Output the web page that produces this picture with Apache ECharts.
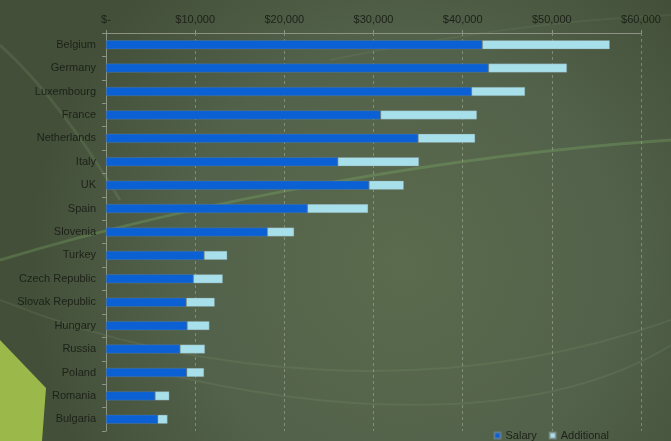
<!DOCTYPE html>
<html>
<head>
<meta charset="utf-8">
<script src="https://cdn.jsdelivr.net/npm/echarts@6/dist/echarts.min.js"></script>
<style>
html,body{margin:0;padding:0;}
#chart{width:671px;height:441px;}
</style>
</head>
<body>
<div id="chart"></div>
<script>
var categories = ['Belgium','Germany','Luxembourg','France','Netherlands','Italy','UK','Spain','Slovenia','Turkey','Czech Republic','Slovak Republic','Hungary','Russia','Poland','Romania','Bulgaria'];
var salary = [42200,42900,41000,30800,35000,26000,29500,22600,18100,11000,9800,9000,9100,8300,9050,5500,5800];
var additional = [14300,8800,6000,10800,6400,9100,3900,6800,3000,2600,3300,3200,2500,2800,1950,1600,1100];
var tickLabels = ['$-','$10,000','$20,000','$30,000','$40,000','$50,000','$60,000'];

var chart = echarts.init(document.getElementById('chart'));
var txt = '#1d2118';
var font = 'Liberation Sans, Arial, sans-serif';
chart.setOption({
  backgroundColor: {
    type: 'radial', x: 0.6, y: 0.6, r: 0.85,
    colorStops: [{offset: 0, color: '#5b6b4d'}, {offset: 0.6, color: '#52614a'}, {offset: 1, color: '#434f39'}]
  },
  graphic: [
    {type: 'polygon', silent: true, z: -10, shape: {points: [[0,340],[46,388],[42,441],[0,441]]}, style: {fill: '#9ab94a'}},
    {type: 'bezierCurve', silent: true, z: -10, shape: {x1: 0, y1: 260, cpx1: 200, cpy1: 200, cpx2: 450, cpy2: 155, x2: 671, y2: 140}, style: {stroke: 'rgba(140,200,110,0.25)', lineWidth: 3, fill: null}},
    {type: 'bezierCurve', silent: true, z: -10, shape: {x1: 0, y1: 45, cpx1: 50, cpy1: 90, cpx2: 90, cpy2: 150, x2: 120, y2: 200}, style: {stroke: 'rgba(170,210,150,0.12)', lineWidth: 3, fill: null}},
    {type: 'bezierCurve', silent: true, z: -10, shape: {x1: 0, y1: 300, cpx1: 200, cpy1: 380, cpx2: 450, cpy2: 400, x2: 671, y2: 320}, style: {stroke: 'rgba(170,210,150,0.1)', lineWidth: 2, fill: null}},
    {type: 'bezierCurve', silent: true, z: -10, shape: {x1: 150, y1: 370, cpx1: 350, cpy1: 420, cpx2: 550, cpy2: 420, x2: 671, y2: 345}, style: {stroke: 'rgba(170,210,150,0.1)', lineWidth: 2, fill: null}},
    {type: 'bezierCurve', silent: true, z: -10, shape: {x1: 330, y1: 60, cpx1: 450, cpy1: 35, cpx2: 560, cpy2: 20, x2: 671, y2: 15}, style: {stroke: 'rgba(170,210,150,0.08)', lineWidth: 2, fill: null}}
  ],
  grid: {left: 106, right: 30, top: 33, bottom: 10, containLabel: false},
  legend: {
    right: 57, top: 425, itemWidth: 6, itemHeight: 6, itemGap: 12, icon: 'rect',
    textStyle: {color: txt, fontSize: 11, fontFamily: font},
    data: ['Salary','Additional']
  },
  xAxis: {
    type: 'value', position: 'top', min: 0, max: 60000, interval: 10000,
    axisLine: {show: true, lineStyle: {color: '#8d9384'}},
    axisTick: {show: true, length: 3, lineStyle: {color: '#8d9384'}},
    splitLine: {show: true, lineStyle: {color: 'rgba(200,205,195,0.4)', type: [3,3]}},
    axisLabel: {color: txt, fontSize: 11, fontFamily: font, margin: 8,
      formatter: function (v) { return tickLabels[Math.round(v / 10000)]; }}
  },
  yAxis: {
    type: 'category', inverse: true, data: categories,
    axisLine: {show: true, lineStyle: {color: '#8d9384'}},
    axisTick: {show: true, length: 4, lineStyle: {color: '#8d9384'}},
    axisLabel: {color: txt, fontSize: 11, fontFamily: font, margin: 10}
  },
  series: [
    {name: 'Salary', type: 'bar', stack: 'total', barWidth: 9, data: salary,
     itemStyle: {color: '#0b61d3', borderColor: 'rgba(120,140,150,0.6)', borderWidth: 0.5}},
    {name: 'Additional', type: 'bar', stack: 'total', barWidth: 9, data: additional,
     itemStyle: {color: '#a7e0ea', borderColor: 'rgba(130,140,140,0.7)', borderWidth: 0.5}}
  ]
});
</script>
</body>
</html>
